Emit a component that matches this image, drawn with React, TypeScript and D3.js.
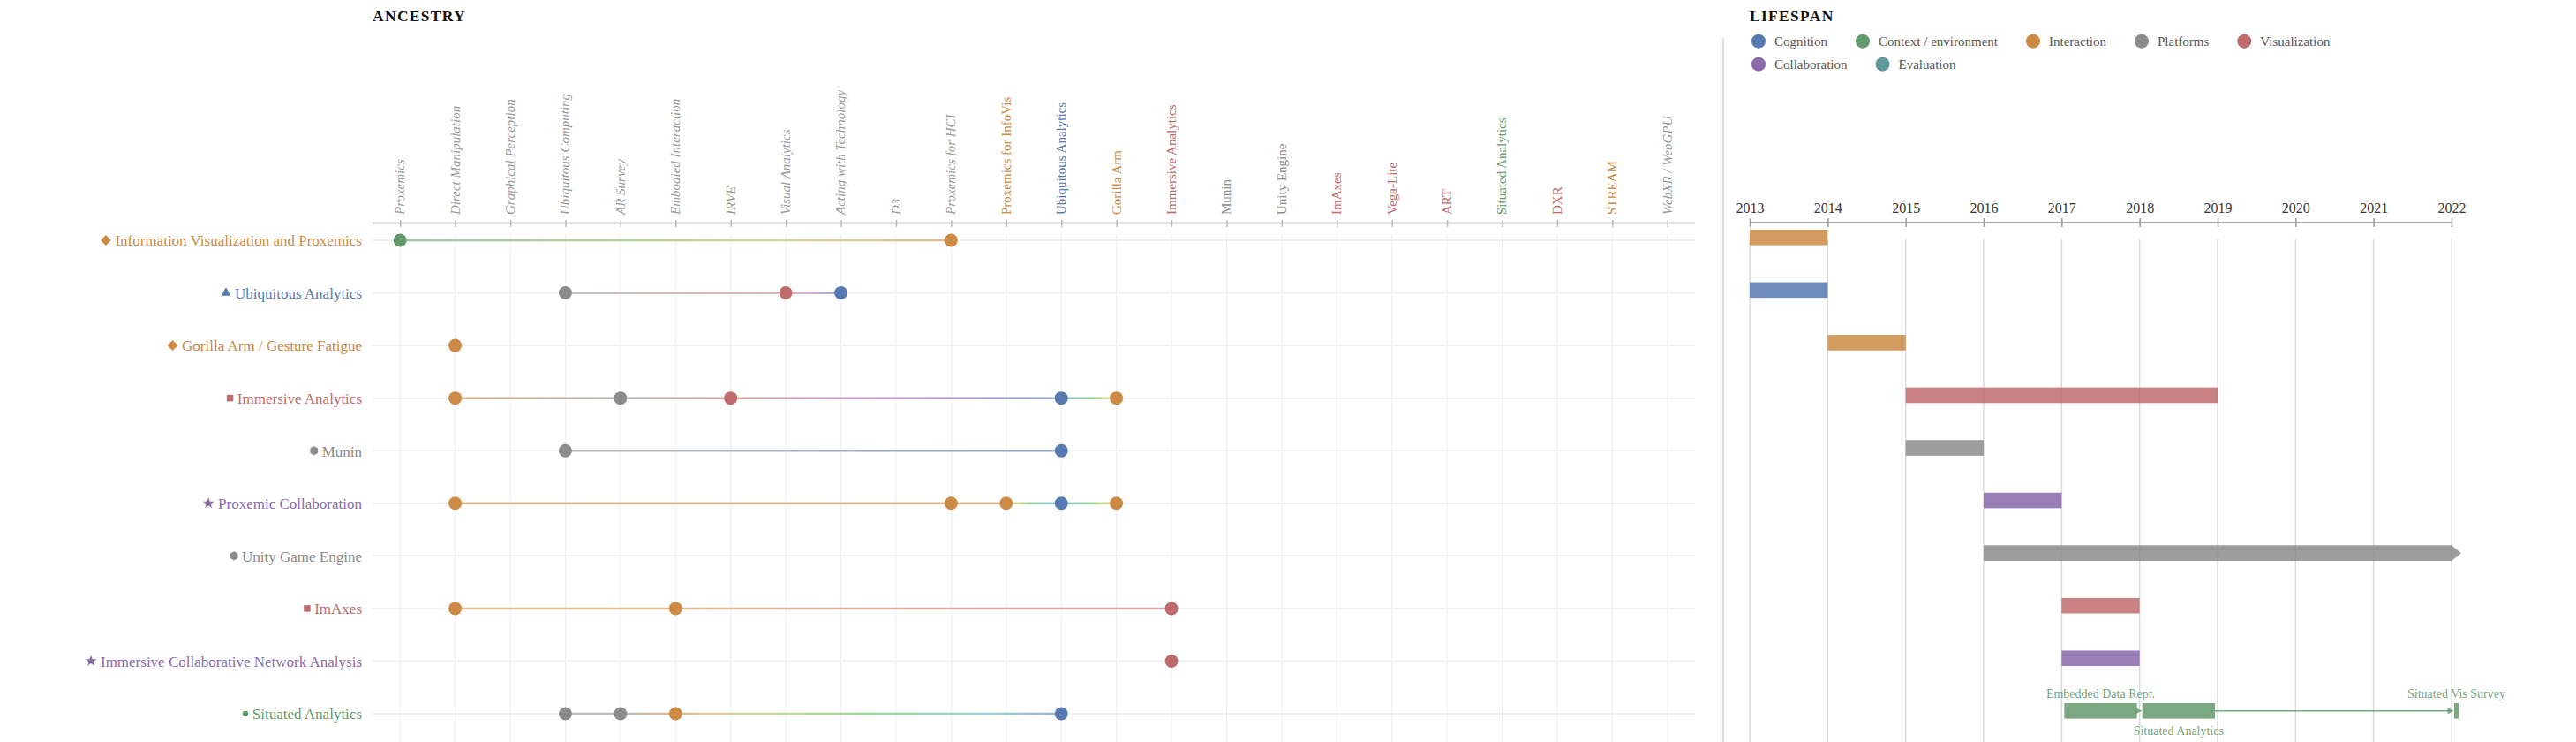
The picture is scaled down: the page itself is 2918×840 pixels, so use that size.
import { useEffect, useRef } from "react";
import * as d3 from "d3";

const W = 2918;
const H = 840;

// Categories and their colours
const categories = [
    "Cognition",
    "Context / environment",
    "Interaction",
    "Platforms",
    "Visualization",
    "Collaboration",
    "Evaluation",
];
const palette = ["#5579b0", "#64996b", "#cc8a45", "#8c8c8c", "#c06b6b", "#8a6aab", "#5f9a9a"];

// Ancestry columns (cited works)
const columns = [
    "Proxemics",
    "Direct Manipulation",
    "Graphical Perception",
    "Ubiquitous Computing",
    "AR Survey",
    "Embodied Interaction",
    "IRVE",
    "Visual Analytics",
    "Acting with Technology",
    "D3",
    "Proxemics for HCI",
    "Proxemics for InfoVis",
    "Ubiquitous Analytics",
    "Gorilla Arm",
    "Immersive Analytics",
    "Munin",
    "Unity Engine",
    "ImAxes",
    "Vega-Lite",
    "ART",
    "Situated Analytics",
    "DXR",
    "STREAM",
    "WebXR / WebGPU",
];
const columnCategory = [
    "Context / environment",
    "Interaction",
    "Visualization",
    "Platforms",
    "Platforms",
    "Interaction",
    "Visualization",
    "Visualization",
    "Cognition",
    "Visualization",
    "Interaction",
    "Interaction",
    "Cognition",
    "Interaction",
    "Visualization",
    "Platforms",
    "Platforms",
    "Visualization",
    "Visualization",
    "Visualization",
    "Context / environment",
    "Visualization",
    "Interaction",
    "Platforms",
];
// true = external reference (italic grey label)
const columnExternal = [
    true, true, true, true, true, true, true, true, true, true, true,
    false, false, false, false, false, false, false, false, false, false, false, false,
    true,
];

// Rows (works in the survey)
const rows = [
    "Information Visualization and Proxemics",
    "Ubiquitous Analytics",
    "Gorilla Arm / Gesture Fatigue",
    "Immersive Analytics",
    "Munin",
    "Proxemic Collaboration",
    "Unity Game Engine",
    "ImAxes",
    "Immersive Collaborative Network Analysis",
    "Situated Analytics",
];
const rowCategory = [
    "Interaction",
    "Cognition",
    "Interaction",
    "Visualization",
    "Platforms",
    "Collaboration",
    "Platforms",
    "Visualization",
    "Collaboration",
    "Context / environment",
];
const rowAncestors = [
    ["Proxemics", "Proxemics for HCI"],
    ["Ubiquitous Computing", "Visual Analytics", "Acting with Technology"],
    ["Direct Manipulation"],
    ["Direct Manipulation", "AR Survey", "IRVE", "Ubiquitous Analytics", "Gorilla Arm"],
    ["Ubiquitous Computing", "Ubiquitous Analytics"],
    ["Direct Manipulation", "Proxemics for HCI", "Proxemics for InfoVis", "Ubiquitous Analytics", "Gorilla Arm"],
    [],
    ["Direct Manipulation", "Embodied Interaction", "Immersive Analytics"],
    ["Immersive Analytics"],
    ["Ubiquitous Computing", "AR Survey", "Embodied Interaction", "Ubiquitous Analytics"],
];

// Lifespans
const lifeStart = [2013, 2013, 2014, 2015, 2015, 2016, 2016, 2017, 2017, null];
const lifeEnd = [2014, 2014, 2015, 2019, 2016, 2017, 2022, 2018, 2018, null];
const lifeOngoing = [false, false, false, false, false, false, true, false, false, false];

// Publications on the Situated Analytics row
const situatedPubs = ["Embedded Data Repr.", "Situated Analytics", "Situated Vis Survey"];
const situatedStart = [2017, 2018, 2022];
const situatedEnd = [2018, 2019, 2022];

const yearTicks = [2013, 2014, 2015, 2016, 2017, 2018, 2019, 2020, 2021, 2022];

const FONT = "'Liberation Serif', 'Times New Roman', serif";

// hsl interpolation; near-opposite hues (up to 190deg apart) go the direct way
function hueInterp(a: string, b: string) {
    const A = d3.hsl(a);
    const B = d3.hsl(b);
    const ha = isNaN(A.h) ? B.h : A.h;
    let hb = isNaN(B.h) ? A.h : B.h;
    let dh = hb - ha;
    if (dh > 190) dh -= 360;
    if (dh < -190) dh += 360;
    hb = ha + dh;
    const sa = isNaN(A.s) ? 0 : A.s;
    const sb = isNaN(B.s) ? 0 : B.s;
    return (t: number) => d3.hsl(ha + (hb - ha) * t, sa + (sb - sa) * t, A.l + (B.l - A.l) * t).formatHex();
}

export default function App() {
    const svgRef = useRef<SVGSVGElement | null>(null);

    useEffect(() => {
        if (!svgRef.current) return;
        const svg = d3.select(svgRef.current);
        svg.selectAll("*").remove();

        const color = (c: string) => palette[categories.indexOf(c)];
        const defs = svg.append("defs");

        // ---------- ANCESTRY ----------
        const x = d3.scalePoint<string>().domain(columns).range([422, 1920]).padding(0.5);
        const y = d3.scalePoint<string>().domain(rows).range([272, 808]);

        svg.append("text")
            .attr("x", 422)
            .attr("y", 24)
            .attr("font-family", FONT)
            .attr("font-weight", "bold")
            .attr("font-size", 17.5)
            .attr("letter-spacing", 1.3)
            .attr("fill", "#111")
            .text("ANCESTRY");

        const anc = svg.append("g");

        // vertical grid
        anc.selectAll(".vgrid")
            .data(columns)
            .enter()
            .append("line")
            .attr("x1", (d) => x(d) || 0)
            .attr("x2", (d) => x(d) || 0)
            .attr("y1", 265)
            .attr("y2", H)
            .attr("stroke", "#eeeeee")
            .attr("stroke-width", 1);

        // row lines
        anc.selectAll(".hgrid")
            .data(rows)
            .enter()
            .append("line")
            .attr("x1", 422)
            .attr("x2", 1920)
            .attr("y1", (d) => y(d) || 0)
            .attr("y2", (d) => y(d) || 0)
            .attr("stroke", "#f1f1f1")
            .attr("stroke-width", 2);

        // axis
        anc.append("line")
            .attr("x1", 422)
            .attr("x2", 1920)
            .attr("y1", 252.5)
            .attr("y2", 252.5)
            .attr("stroke", "#cccccc")
            .attr("stroke-width", 2);
        const axA = anc.append("g")
            .attr("transform", "translate(0,257)")
            .call(d3.axisTop(x).tickSize(8).tickFormat(() => ""));
        axA.select(".domain").remove();
        axA.selectAll("line").attr("stroke", "#bbbbbb").attr("stroke-width", 1.5);

        // column labels
        anc.selectAll(".collabel")
            .data(columns)
            .enter()
            .append("text")
            .attr("transform", (d) => `translate(${x(d)},243) rotate(-90)`)
            .attr("dy", "0.33em")
            .attr("text-anchor", "start")
            .attr("font-family", FONT)
            .attr("font-size", 15)
            .attr("font-style", (d, i) => (columnExternal[i] ? "italic" : "normal"))
            .attr("fill", (d, i) => (columnExternal[i] ? "#9a9a9a" : color(columnCategory[i])))
            .text((d) => d);

        // row labels + markers
        const symbolFor = (c: string) => {
            switch (c) {
                case "Interaction":
                    return { path: d3.symbol(d3.symbolSquare, 72)(), half: 6, rot: 45 };
                case "Cognition":
                    return { path: d3.symbol(d3.symbolTriangle, 52)(), half: 5.5, rot: 0 };
                case "Visualization":
                    return { path: d3.symbol(d3.symbolSquare, 56)(), half: 3.75, rot: 0 };
                case "Collaboration":
                    return { path: d3.symbol(d3.symbolStar, 51)(), half: 6.4, rot: 0 };
                case "Platforms": {
                    const pts = d3.range(6).map((k) => {
                        const a = ((-90 + 60 * k) * Math.PI) / 180;
                        return [5 * Math.cos(a), 5.2 * Math.sin(a)] as [number, number];
                    });
                    return { path: "M" + pts.map((p) => p.join(",")).join("L") + "Z", half: 4.4, rot: 0 };
                }
                default:
                    return { path: d3.symbol(d3.symbolCircle, 34)(), half: 3.3, rot: 0 };
            }
        };

        rows.forEach((r, i) => {
            const ry = y(r) || 0;
            const c = color(rowCategory[i]);
            const t = anc.append("text")
                .attr("x", 410)
                .attr("y", ry)
                .attr("dy", "0.37em")
                .attr("text-anchor", "end")
                .attr("font-family", FONT)
                .attr("font-size", 17)
                .attr("fill", c)
                .text(r);
            const w = (t.node() as SVGTextElement).getComputedTextLength();
            const s = symbolFor(rowCategory[i]);
            anc.append("path")
                .attr("d", s.path)
                .attr("transform", `translate(${410 - w - 4.5 - s.half},${ry}) rotate(${s.rot})`)
                .attr("fill", c);
        });

        // connecting lines with gradients
        rows.forEach((r, i) => {
            const ry = y(r) || 0;
            const cited = rowAncestors[i]
                .slice()
                .sort((a, b) => columns.indexOf(a) - columns.indexOf(b));
            for (let k = 0; k < cited.length - 1; k++) {
                const a = cited[k];
                const b = cited[k + 1];
                const xa = x(a) || 0;
                const xb = x(b) || 0;
                const ca = color(columnCategory[columns.indexOf(a)]);
                const cb = color(columnCategory[columns.indexOf(b)]);
                const id = `grad-${i}-${k}`;
                const interp = hueInterp(ca, cb);
                const grad = defs.append("linearGradient")
                    .attr("id", id)
                    .attr("gradientUnits", "userSpaceOnUse")
                    .attr("x1", xa)
                    .attr("x2", xb)
                    .attr("y1", ry)
                    .attr("y2", ry);
                d3.range(0, 1.0001, 0.1).forEach((t) => {
                    grad.append("stop").attr("offset", t).attr("stop-color", interp(t));
                });
                anc.append("line")
                    .attr("x1", xa)
                    .attr("x2", xb)
                    .attr("y1", ry)
                    .attr("y2", ry)
                    .attr("stroke", `url(#${id})`)
                    .attr("stroke-width", 2.5)
                    .attr("stroke-opacity", 0.55);
            }
        });

        // dots
        rows.forEach((r, i) => {
            const ry = y(r) || 0;
            anc.selectAll(`.dot-${i}`)
                .data(rowAncestors[i])
                .enter()
                .append("circle")
                .attr("cx", (d) => x(d) || 0)
                .attr("cy", ry)
                .attr("r", 7.5)
                .attr("fill", (d) => color(columnCategory[columns.indexOf(d)]));
        });

        // divider
        svg.append("line")
            .attr("x1", 1952)
            .attr("x2", 1952)
            .attr("y1", 43)
            .attr("y2", H)
            .attr("stroke", "#d0d0d0")
            .attr("stroke-width", 1.5);

        // ---------- LIFESPAN ----------
        const xl = d3.scaleLinear().domain([2013, 2022]).range([1982, 2777]);

        svg.append("text")
            .attr("x", 1982)
            .attr("y", 24)
            .attr("font-family", FONT)
            .attr("font-weight", "bold")
            .attr("font-size", 17.5)
            .attr("letter-spacing", 1.3)
            .attr("fill", "#111")
            .text("LIFESPAN");

        // legend
        const leg = svg.append("g");
        let cx = 1992;
        let cy = 46.7;
        categories.forEach((c, i) => {
            const t = leg.append("text")
                .attr("x", cx + 18)
                .attr("y", cy)
                .attr("dy", "0.33em")
                .attr("font-family", FONT)
                .attr("font-size", 15)
                .attr("fill", "#555")
                .text(c);
            const w = (t.node() as SVGTextElement).getComputedTextLength();
            if (cx + 18 + w > 2777 && cx > 1992) {
                cx = 1992;
                cy += 26;
                t.attr("x", cx + 18).attr("y", cy);
            }
            leg.append("circle").attr("cx", cx).attr("cy", cy).attr("r", 8).attr("fill", palette[i]);
            cx = cx + 18 + w + 40;
        });

        const life = svg.append("g");

        life.selectAll(".ygrid")
            .data(yearTicks)
            .enter()
            .append("line")
            .attr("x1", (d) => xl(d))
            .attr("x2", (d) => xl(d))
            .attr("y1", 271)
            .attr("y2", H)
            .attr("stroke", "#dcdcdc")
            .attr("stroke-width", 1.5);

        life.append("line")
            .attr("x1", xl(2013))
            .attr("x2", xl(2022))
            .attr("y1", 252)
            .attr("y2", 252)
            .attr("stroke", "#aaaaaa")
            .attr("stroke-width", 2);
        const axL = life.append("g")
            .attr("transform", "translate(0,257)")
            .call(d3.axisTop(xl).tickValues(yearTicks).tickSize(10).tickPadding(6).tickFormat(d3.format("d")));
        axL.select(".domain").remove();
        axL.selectAll("line").attr("stroke", "#999").attr("stroke-width", 1.5);
        axL.selectAll("text")
            .attr("font-family", FONT)
            .attr("font-size", 16)
            .attr("fill", "#333");

        const barH = 17.6;
        rows.forEach((r, i) => {
            const s = lifeStart[i];
            const e = lifeEnd[i];
            if (s == null || e == null) return;
            const top = (y(r) || 0) - 12;
            const x0 = xl(s);
            const x1 = xl(e);
            const c = color(rowCategory[i]);
            if (lifeOngoing[i]) {
                life.append("path")
                    .attr("d", `M${x0},${top}H${x1}L${x1 + 11},${top + barH / 2}L${x1},${top + barH}H${x0}Z`)
                    .attr("fill", c)
                    .attr("fill-opacity", 0.85);
            } else {
                life.append("rect")
                    .attr("x", x0)
                    .attr("y", top)
                    .attr("width", x1 - x0)
                    .attr("height", barH)
                    .attr("fill", c)
                    .attr("fill-opacity", 0.85);
            }
        });

        // Situated Analytics publications
        const si = rows.indexOf("Situated Analytics");
        const sTop = (y(rows[si]) || 0) - 12;
        const sMid = sTop + barH / 2;
        const sc = color(rowCategory[si]);
        const spans = situatedPubs.map((p, k) => {
            const x0 = xl(situatedStart[k]) + 3;
            const x1 = Math.max(xl(situatedEnd[k]) - 3, x0 + 5);
            return { p, x0, x1 };
        });
        spans.forEach((s, k) => {
            if (k > 0) {
                const prev = spans[k - 1];
                const tip = s.x0 - 0.5;
                life.append("line")
                    .attr("x1", prev.x1)
                    .attr("x2", tip - 6)
                    .attr("y1", sMid)
                    .attr("y2", sMid)
                    .attr("stroke", sc)
                    .attr("stroke-opacity", 0.85)
                    .attr("stroke-width", 1.5);
                life.append("path")
                    .attr("d", `M${tip - 7},${sMid - 3.5}L${tip},${sMid}L${tip - 7},${sMid + 3.5}Z`)
                    .attr("fill", sc)
                    .attr("fill-opacity", 0.85);
            }
            life.append("rect")
                .attr("x", s.x0)
                .attr("y", sTop)
                .attr("width", s.x1 - s.x0)
                .attr("height", barH)
                .attr("fill", sc)
                .attr("fill-opacity", 0.85);
            life.append("text")
                .attr("x", (s.x0 + s.x1) / 2)
                .attr("y", k % 2 === 0 ? sTop - 6 : sTop + barH + 18.6)
                .attr("text-anchor", "middle")
                .attr("font-family", FONT)
                .attr("font-size", 14)
                .attr("fill", sc)
                .attr("fill-opacity", 0.9)
                .text(s.p);
        });
    }, []);

    return (
        <div style={{ position: "absolute", left: 0, top: 0, width: W, height: H, overflow: "hidden", background: "#fff" }}>
            <svg ref={svgRef} width={W} height={H} style={{ display: "block" }} />
        </div>
    );
}
